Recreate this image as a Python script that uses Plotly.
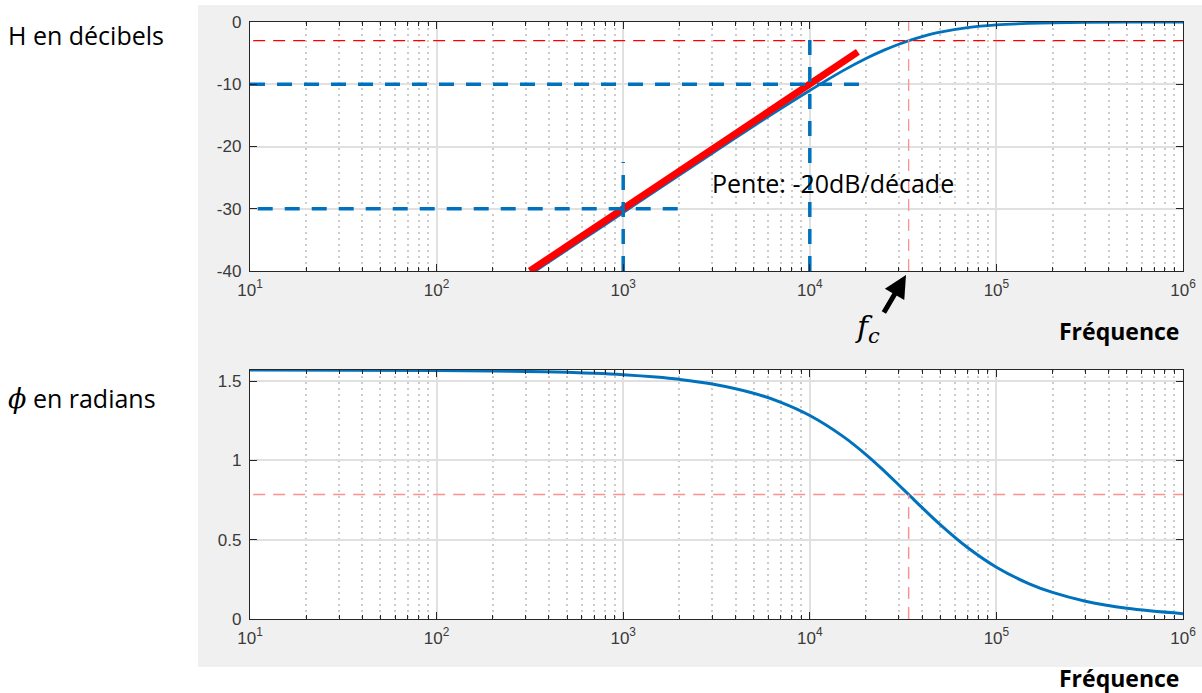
import plotly.graph_objects as go

# ---- data ----
freq = [10, 100, 200, 300, 500, 700, 1000, 1500, 2000, 3000, 5000, 7000, 10000,
        15000, 20000, 25000, 30000, 35000, 40000, 50000, 70000, 100000, 150000,
        200000, 300000, 500000, 1000000]
gain_db = [-70.6, -50.6, -44.6, -41.05, -36.6, -33.7, -30.6, -27.1, -24.6, -21.1,
           -16.7, -13.9, -11.0, -7.85, -5.87, -4.52, -3.57, -2.87, -2.35, -1.64,
           -0.91, -0.47, -0.22, -0.12, -0.055, -0.02, -0.005]
phase_rad = [1.5705, 1.5678, 1.5649, 1.5619, 1.556, 1.5501, 1.5413, 1.5265, 1.5118,
             1.4824, 1.4242, 1.3669, 1.2837, 1.1537, 1.0374, 0.9348, 0.8455, 0.7688,
             0.7025, 0.5953, 0.4507, 0.3265, 0.222, 0.1677, 0.1124, 0.0676, 0.0339]

fc = 33860
slope_f = [316, 18100]          # red asymptote (-20 dB/decade)
slope_db = [-40, -4.8]
ref_f = [1000, 10000]           # blue reference frequencies
ref_db = [-30, -10]
x_ticks = [10, 100, 1000, 10000, 100000, 1000000]
x_ticktext = ["10<sup>1</sup>", "10<sup>2</sup>", "10<sup>3</sup>",
              "10<sup>4</sup>", "10<sup>5</sup>", "10<sup>6</sup>"]
y1_ticks = [0, -10, -20, -30, -40]
y1_text = ["0", "-10", "-20", "-30", "-40"]
y2_ticks = [0, 0.5, 1, 1.5]
y2_text = ["0", "0.5", "1", "1.5"]

W, H = 1202, 693
BLUE = "#0072BD"
minor_vals = [m * 10 ** k for k in range(1, 6) for m in range(2, 10)]

fig = go.Figure()

# main curves
fig.add_trace(go.Scatter(x=freq, y=gain_db, mode="lines", line=dict(color=BLUE, width=2.8, shape="spline"),
                         xaxis="x", yaxis="y", showlegend=False, hoverinfo="skip"))
fig.add_trace(go.Scatter(x=freq, y=phase_rad, mode="lines", line=dict(color=BLUE, width=3, shape="spline"),
                         xaxis="x2", yaxis="y2", showlegend=False, hoverinfo="skip"))

# red asymptote
fig.add_trace(go.Scatter(x=slope_f, y=slope_db, mode="lines", line=dict(color="#ff0000", width=7),
                         xaxis="x", yaxis="y", showlegend=False, hoverinfo="skip"))

# blue dashed reference lines
dash_b = "15px,12px"
fig.add_trace(go.Scatter(x=[10, 20000], y=[ref_db[1], ref_db[1]], mode="lines",
                         line=dict(color=BLUE, width=3.5, dash=dash_b), xaxis="x", yaxis="y", showlegend=False))
fig.add_trace(go.Scatter(x=[11, 2000], y=[ref_db[0], ref_db[0]], mode="lines",
                         line=dict(color=BLUE, width=3.5, dash=dash_b), xaxis="x", yaxis="y", showlegend=False))
fig.add_trace(go.Scatter(x=[ref_f[1], ref_f[1]], y=[-40, -2], mode="lines",
                         line=dict(color=BLUE, width=3.5, dash=dash_b), xaxis="x", yaxis="y", showlegend=False))
fig.add_trace(go.Scatter(x=[ref_f[0], ref_f[0]], y=[-40, -22.5], mode="lines",
                         line=dict(color=BLUE, width=3.5, dash=dash_b), xaxis="x", yaxis="y", showlegend=False))

# red dashed -3 dB and fc lines
fig.add_trace(go.Scatter(x=[10.4, 1000000], y=[-3, -3], mode="lines",
                         line=dict(color="#ff0000", width=1.3, dash="12px,8px"), xaxis="x", yaxis="y", showlegend=False))
fig.add_trace(go.Scatter(x=[fc, fc], y=[-40, 0], mode="lines",
                         line=dict(color="#ff9090", width=1.3, dash="12px,8px"), xaxis="x", yaxis="y", showlegend=False))
fig.add_trace(go.Scatter(x=[10.4, 1000000], y=[0.785, 0.785], mode="lines",
                         line=dict(color="#ff9090", width=1.5, dash="12px,8px"), xaxis="x2", yaxis="y2", showlegend=False))
fig.add_trace(go.Scatter(x=[fc, fc], y=[0, 0.785], mode="lines",
                         line=dict(color="#ff9090", width=1.5, dash="12px,8px"), xaxis="x2", yaxis="y2", showlegend=False))

xdom = [250 / W, 1183 / W]
y1dom = [1 - 271 / H, 1 - 22 / H]
y2dom = [1 - 619 / H, 1 - 370 / H]

tickfont = dict(family="Liberation Sans, Arial, sans-serif", size=17, color="#3a3a3a")
common_x = dict(type="log", range=[1, 6], tickmode="array", tickvals=x_ticks, ticktext=x_ticktext,
                ticks="inside", ticklen=7, tickcolor="#262626", showline=True, linecolor="#262626",
                linewidth=1.3, mirror="allticks", showgrid=True, gridcolor="#e0e0e0", gridwidth=1.5,
                tickfont=tickfont, domain=xdom, zeroline=False, automargin=False, ticklabelstandoff=3,
                minor=dict(tickmode="array", tickvals=minor_vals, ticks="inside", ticklen=4,
                           tickcolor="#262626", showgrid=True, gridcolor="#cccccc", griddash="2px,4px",
                           gridwidth=1.5))
common_y = dict(ticks="inside", ticklen=7, tickcolor="#262626", showline=True, linecolor="#262626",
                linewidth=1.3, mirror="allticks", showgrid=True, gridcolor="#e0e0e0", gridwidth=1.5,
                tickfont=tickfont, zeroline=False, tickmode="array", automargin=False, ticklabelstandoff=4)

fig.update_layout(
    template="none",
    width=W, height=H, margin=dict(l=0, r=0, t=0, b=0, pad=0, autoexpand=False),
    paper_bgcolor="white", plot_bgcolor="white", hovermode=False,
    xaxis=dict(common_x, anchor="y"),
    yaxis=dict(common_y, domain=y1dom, range=[-40, 0], tickvals=y1_ticks, ticktext=y1_text, anchor="x"),
    xaxis2=dict(common_x, anchor="y2"),
    yaxis2=dict(common_y, domain=y2dom, range=[0, 1.5708], tickvals=y2_ticks, ticktext=y2_text, anchor="x2"),
    shapes=[
        dict(type="rect", xref="paper", yref="paper", x0=198 / W, x1=1.0, y0=1 - 667 / H, y1=1 - 5 / H,
             fillcolor="#f0f0f0", line=dict(width=0), layer="below"),
        dict(type="rect", xref="x domain", yref="y domain", x0=0, x1=1, y0=0, y1=1,
             fillcolor="white", line=dict(width=0), layer="below"),
        dict(type="rect", xref="x2 domain", yref="y2 domain", x0=0, x1=1, y0=0, y1=1,
             fillcolor="white", line=dict(width=0), layer="below"),
    ],
)

lab_font = dict(family="Open Sans, Noto Sans, sans-serif", size=25, color="black")
bold_font = dict(family="Open Sans, Noto Sans, sans-serif", size=23, color="black")
ann = [
    dict(x=6 / W, y=1 - 35 / H, xref="paper", yref="paper", text="H en décibels", showarrow=False,
         xanchor="left", yanchor="middle", font=lab_font),
    dict(x=6 / W, y=1 - 398 / H, xref="paper", yref="paper",
         text="<span style='font-family:DejaVu Serif;font-style:italic;font-size:27px'>ϕ</span> en radians",
         showarrow=False, xanchor="left", yanchor="middle", font=lab_font),
    dict(x=710 / W, y=1 - 183 / H, xref="paper", yref="paper", text="Pente: -20dB/décade", showarrow=False,
         xanchor="left", yanchor="middle", font=lab_font),
    dict(x=1181 / W, y=1 - 331 / H, xref="paper", yref="paper", text="<b>Fréquence</b>", showarrow=False,
         xanchor="right", yanchor="middle", font=bold_font),
    dict(x=1181 / W, y=1 - 678 / H, xref="paper", yref="paper", text="<b>Fréquence</b>", showarrow=False,
         xanchor="right", yanchor="middle", font=bold_font),
    dict(x=867 / W, y=1 - 329 / H, xref="paper", yref="paper", text="<i>f</i><sub><i>c</i></sub>", showarrow=False,
         xanchor="center", yanchor="middle", font=dict(family="DejaVu Serif, serif", size=30, color="black")),
    dict(x=906 / W, y=1 - 275 / H, xref="paper", yref="paper", text="", showarrow=True,
         ax=-23, ay=39, arrowhead=2, arrowsize=0.9, arrowwidth=5, arrowcolor="black"),
]
fig.update_layout(annotations=ann)

fig.write_html("out.html", config={"displayModeBar": False},
               post_script="document.body.style.margin='0';document.body.style.overflow='hidden';")
